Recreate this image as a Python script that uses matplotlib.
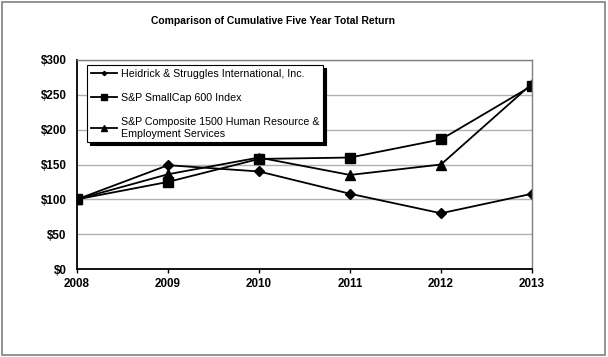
import matplotlib
matplotlib.use("Agg")
import matplotlib.pyplot as plt
from matplotlib.patches import Rectangle

plt.rcParams['font.family'] = ['Liberation Sans', 'DejaVu Sans']

years = [2008, 2009, 2010, 2011, 2012, 2013]
heidrick = [100, 149, 140, 108, 80, 108]
smallcap = [100, 125, 158, 160, 186, 263]
hr_services = [100, 136, 160, 135, 150, 266]
y_ticks = [0, 50, 100, 150, 200, 250, 300]
labels = ["Heidrick & Struggles International, Inc.",
          "S&P SmallCap 600 Index",
          "S&P Composite 1500 Human Resource &\nEmployment Services"]

fig = plt.figure(figsize=(6.08, 3.57), dpi=100)
ax = fig.add_axes([77/608, 1 - 269/357, (532 - 77)/608, (269 - 60)/357])

# outer frame
fig.patches.append(Rectangle((2/608, 2/357), 603/608, 353/357, transform=fig.transFigure,
                             fill=False, edgecolor="#808080", linewidth=1.2))

ax.plot(years, heidrick, color="black", lw=1.3, marker="D", ms=4.6, label=labels[0])
ax.plot(years, smallcap, color="black", lw=1.3, marker="s", ms=6.6, label=labels[1])
ax.plot(years, hr_services, color="black", lw=1.3, marker="^", ms=7.2, label=labels[2])

ax.set_xlim(2008, 2013)
ax.set_ylim(0, 300)
ax.set_xticks(years)
ax.set_yticks(y_ticks)
ax.set_yticklabels(["$%d" % v for v in y_ticks])
for lbl in ax.get_xticklabels() + ax.get_yticklabels():
    lbl.set_fontweight("bold")
    lbl.set_fontsize(8.4)
ax.tick_params(axis="y", length=0, pad=7.5)
ax.tick_params(axis="x", direction="out", length=3, width=1, pad=3.5)
ax.grid(axis="y", color="#b0b0b0", lw=1)
ax.set_axisbelow(True)
for side in ["top", "right"]:
    ax.spines[side].set_color("#808080")
    ax.spines[side].set_linewidth(1)
for side in ["left", "bottom"]:
    ax.spines[side].set_color("black")
    ax.spines[side].set_linewidth(1.3)

fig.text(273/608, 1 - 21/357, "Comparison of Cumulative Five Year Total Return",
         ha="center", va="center", fontsize=7.5, fontweight="bold")

leg = ax.legend(loc="upper left", bbox_to_anchor=(0.022, 0.976), fontsize=7.7,
                frameon=True, fancybox=False, shadow={"color": "black", "alpha": 1},
                edgecolor="black", framealpha=1, labelspacing=1.3, handlelength=2.5,
                handletextpad=0.3, borderpad=0.35, borderaxespad=0)
leg.get_frame().set_linewidth(0.8)
leg.get_texts()[2].set_linespacing(1.25)
for line, size in zip(leg.get_lines(), [2.2, 3.8, 4.2]):
    line.set_markersize(size)

fig.savefig("out.png", dpi=100)
